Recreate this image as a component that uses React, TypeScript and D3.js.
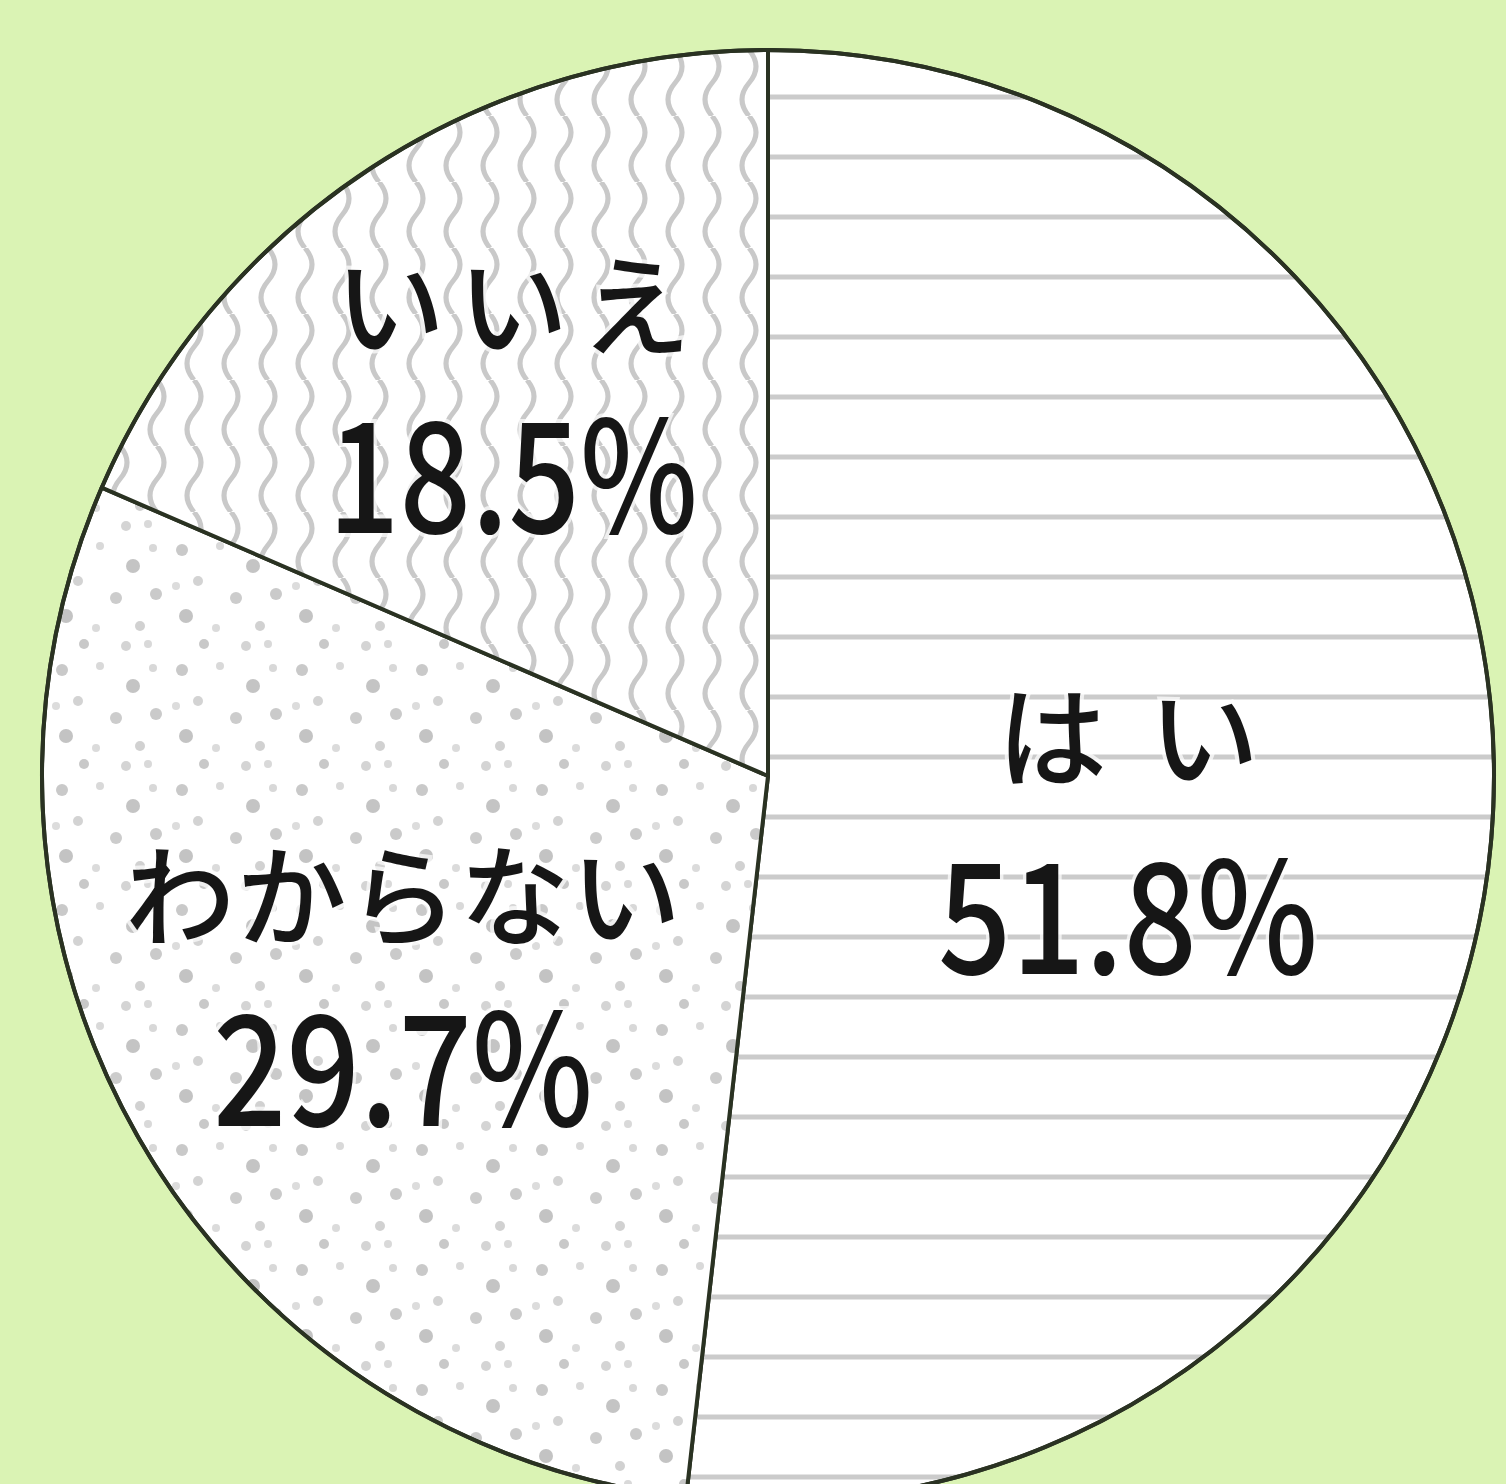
import React from "react";
import * as d3 from "d3";

const categories = ["はい", "わからない", "いいえ"];
const values = [51.8, 29.7, 18.5];
const valueLabels = ["51.8%", "29.7%", "18.5%"];

const W = 1506;
const H = 1484;
const cx = 768;
const cy = 776;
const R = 726;

const patternIds = ["hatchLines", "hatchDots", "hatchWaves"];

// label layout (centre of the name line, baseline of the value line)
const labelPos = [
  { x: 1128, nameY: 731, valueY: 974, nameW: 262, valueW: 380 },
  { x: 403, nameY: 890, valueY: 1126, nameW: 556, valueW: 380 },
  { x: 513, nameY: 300, valueY: 533, nameW: 356, valueW: 370 },
];

const dots = [
  [14, 14, 6, "#c9c9c9"], [52, 10, 4, "#d9d9d9"], [85, 30, 7, "#c4c4c4"],
  [30, 45, 5, "#d3d3d3"], [68, 62, 6, "#cccccc"], [18, 80, 7, "#c3c3c3"],
  [48, 92, 4, "#dbdbdb"], [92, 90, 5, "#d1d1d1"], [108, 58, 6, "#cacaca"],
  [105, 12, 4, "#d8d8d8"], [36, 108, 5, "#c8c8c8"], [78, 110, 5, "#d4d4d4"],
  [8, 50, 4, "#dcdcdc"], [100, 108, 4, "#d9d9d9"],
] as const;

export default function App() {
  const pie = d3
    .pie<number>()
    .sort(null)
    .startAngle(0)
    .endAngle(2 * Math.PI)
    .value((d) => d);
  const arcs = pie(values);
  const arc = d3.arc<d3.PieArcDatum<number>>().innerRadius(0).outerRadius(R);

  const lineOff = (((97 - cy) % 60) + 60) % 60;

  return (
    <svg
      width={W}
      height={H}
      style={{ position: "absolute", left: 0, top: 0 }}
      xmlns="http://www.w3.org/2000/svg"
    >
      <defs>
        <pattern id="hatchLines" patternUnits="userSpaceOnUse" width={60} height={60}>
          <rect width={60} height={60} fill="#ffffff" />
          <rect x={0} y={lineOff - 2.5} width={60} height={5} fill="#cbcbcb" />
          <rect x={0} y={lineOff - 2.5 + 60} width={60} height={5} fill="#cbcbcb" />
        </pattern>
        <pattern id="hatchWaves" patternUnits="userSpaceOnUse" width={37} height={66}>
          <rect width={37} height={66} fill="#ffffff" />
          <path
            d="M18,0 Q32,16.5 18,33 Q4,49.5 18,66"
            fill="none"
            stroke="#c9c9c9"
            strokeWidth={5}
          />
        </pattern>
        <pattern id="hatchDots" patternUnits="userSpaceOnUse" width={120} height={120}>
          <rect width={120} height={120} fill="#ffffff" />
          {dots.map((d, i) => (
            <circle key={i} cx={d[0]} cy={d[1]} r={d[2]} fill={d[3]} />
          ))}
        </pattern>
      </defs>
      <rect width={W} height={H} fill="#daf3b4" />
      <g transform={`translate(${cx},${cy})`}>
        {arcs.map((a, i) => (
          <path
            key={categories[i]}
            d={arc(a) ?? ""}
            fill={`url(#${patternIds[i]})`}
            stroke="#2a3222"
            strokeWidth={4}
            strokeLinejoin="round"
          />
        ))}
        <circle r={R} fill="none" stroke="#2a3222" strokeWidth={4} />
      </g>
      {categories.map((c, i) => {
        const p = labelPos[i];
        return (
          <g
            key={c}
            fill="#161616"
            fontWeight={500}
            fontFamily="'Noto Sans CJK JP', 'Noto Sans', sans-serif"
          >
            <text
              x={p.x}
              y={p.nameY}
              textAnchor="middle"
              dominantBaseline="central"
              fontSize={110}
              textLength={p.nameW}
              lengthAdjust="spacing"
              stroke="#ffffff"
              strokeWidth={8}
              strokeOpacity={0.7}
              paintOrder="stroke"
            >
              {c}
            </text>
            <text
              x={p.x}
              y={p.valueY}
              textAnchor="middle"
              fontSize={154}
              textLength={p.valueW}
              lengthAdjust="spacingAndGlyphs"
              stroke="#ffffff"
              strokeWidth={8}
              strokeOpacity={0.7}
              paintOrder="stroke"
            >
              {valueLabels[i]}
            </text>
          </g>
        );
      })}
    </svg>
  );
}
